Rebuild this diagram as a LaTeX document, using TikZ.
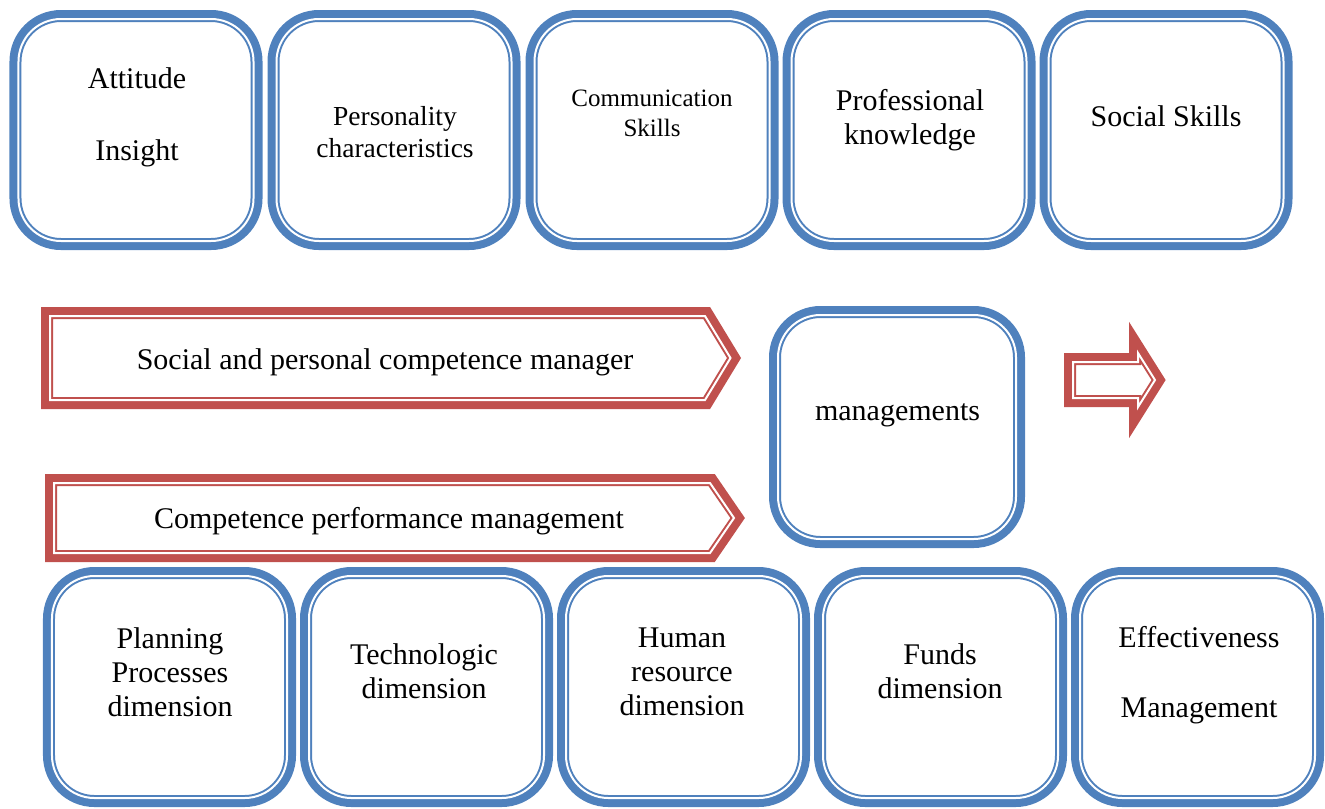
\documentclass[tikz,border=0pt]{standalone}
\usepackage{fontspec}
\setmainfont{Liberation Serif}

\definecolor{boxblue}{RGB}{79,129,189}
\definecolor{arrowred}{RGB}{192,80,77}

\tikzset{
  % thick outer line, white gap, thin inner line
  thickthin/.style={preaction={draw=#1, line width=7.2pt}, fill=white,
    draw=#1, line width=0.8pt, double=white, double distance=0.8pt},
  skillbox/.style={thickthin=boxblue, rounded corners=17pt,
    minimum width=94pt, minimum height=88.8pt, inner sep=0pt},
  boxtext/.style={align=center, inner sep=0pt, font=\fontsize{12}{13.6}\selectfont}
}

\begin{document}
\begin{tikzpicture}[x=0.4pt, y=-0.4pt]
  \useasboundingbox (0,0) rectangle (1325,808);

  % competences
  \node[skillbox] (attitude) at (136,130) {};
  \node[skillbox] (personality) at (394,130) {};
  \node[skillbox] (communication) at (652,130) {};
  \node[skillbox] (knowledge) at (909,130) {};
  \node[skillbox] (social) at (1166,130) {};

  \node[boxtext] (attitude-text) at (137,117) {Attitude\\[15.2pt]Insight};
  \node[boxtext, font=\fontsize{11}{12.8}\selectfont] (personality-text) at (395,131.6) {Personality\\characteristics};
  \node[boxtext, font=\fontsize{10}{12}\selectfont] (communication-text) at (652,113) {Communication\\Skills};
  \node[boxtext] (knowledge-text) at (910,120) {Professional\\knowledge};
  \node[boxtext] (social-text) at (1166,116.5) {Social Skills};

  % the two banners
  \draw[thickthin=arrowred] (50,316) -- (705,316) -- (730.5,358) -- (705,400) -- (50,400) -- cycle;
  \draw[thickthin=arrowred] (54,483) -- (710,483) -- (734,518) -- (710,553) -- (54,553) -- cycle;
  \node[boxtext] (social-manager) at (385,362) {Social and personal competence manager};
  \node[boxtext] (performance) at (389,521.3) {Competence performance management};

  \node[skillbox, minimum width=95.2pt, minimum height=89.6pt] (managements) at (897,427) {};
  \node[boxtext] (managements-text) at (897.5,415) {managements};

  % block arrow on the right
  \draw[thickthin=arrowred] (1073,362) -- (1138,362) -- (1138,353) -- (1155,380)
    -- (1138,407) -- (1138,398) -- (1073,398) -- cycle;

  % dimensions
  \node[skillbox] (planning) at (169.5,687) {};
  \node[skillbox] (technologic) at (426.5,687) {};
  \node[skillbox] (human) at (683.5,687) {};
  \node[skillbox] (funds) at (940.5,687) {};
  \node[skillbox] (effectiveness) at (1197.5,687) {};

  \node[boxtext] (planning-text) at (170,672) {Planning\\Processes\\dimension};
  \node[boxtext] (technologic-text) at (424,671) {Technologic\\dimension};
  \node[boxtext] (human-text) at (682,672) {Human\\resource\\dimension};
  \node[boxtext] (funds-text) at (940,671) {Funds\\dimension};
  \node[boxtext] (effectiveness-text) at (1199,675) {Effectiveness\\[14.2pt]Management};
\end{tikzpicture}
\end{document}
